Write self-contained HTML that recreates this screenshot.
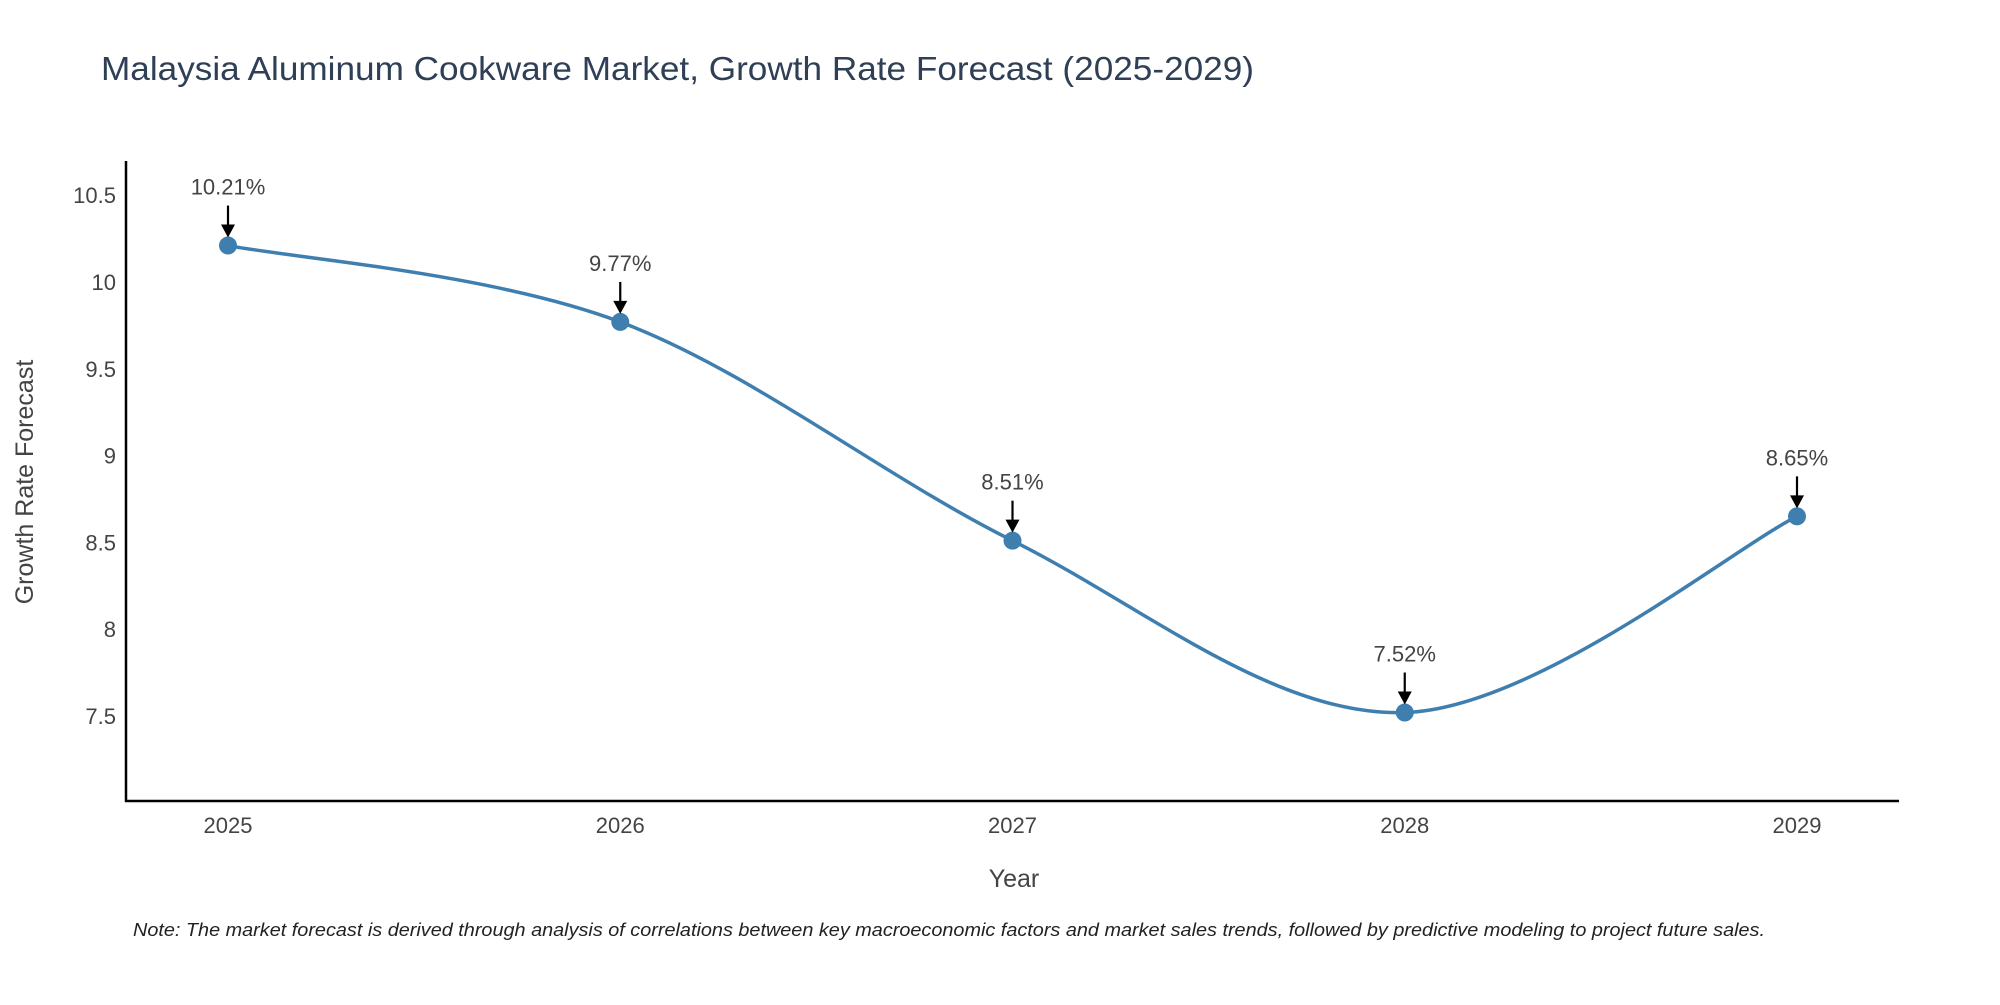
<!DOCTYPE html>
<html><head><meta charset="utf-8"><style>
body{margin:0;background:#fff;}
svg text{font-family:"Liberation Sans",sans-serif;fill:#444;}
</style></head><body>
<svg id="chart" width="2000" height="1000" viewBox="0 0 2000 1000" xmlns="http://www.w3.org/2000/svg">
<text x="101" y="80" font-size="33" textLength="1153" lengthAdjust="spacingAndGlyphs" style="fill:#2f3f55">Malaysia Aluminum Cookware Market, Growth Rate Forecast (2025-2029)</text>
<g id="yticks"></g><g id="xticks"></g>
<line x1="126" y1="161" x2="126" y2="802" stroke="#000" stroke-width="2.5"/>
<line x1="125" y1="801" x2="1899" y2="801" stroke="#000" stroke-width="2.5"/>
<g id="series"></g><g id="annots"></g>
<text x="1014" y="887" font-size="25" text-anchor="middle">Year</text>
<text transform="translate(33,482) rotate(-90)" font-size="25" text-anchor="middle">Growth Rate Forecast</text>
<text x="133" y="936" font-size="18" font-style="italic" textLength="1632" lengthAdjust="spacingAndGlyphs" style="fill:#222">Note: The market forecast is derived through analysis of correlations between key macroeconomic factors and market sales trends, followed by predictive modeling to project future sales.</text>
</svg>
<script>
const years=[2025,2026,2027,2028,2029];
const rates=[10.21,9.77,8.51,7.52,8.65];
const labels=["10.21%","9.77%","8.51%","7.52%","8.65%"];
const yTicks=[7.5,8,8.5,9,9.5,10,10.5];
const yTickLabels=["7.5","8","8.5","9","9.5","10","10.5"];
const NS="http://www.w3.org/2000/svg";
function xs(yr){return 228+(yr-2025)*392.25;}
function ys(v){return 716-(v-7.5)*173.6;}
function mk(tag,attrs,parent){const e=document.createElementNS(NS,tag);for(const k in attrs)e.setAttribute(k,attrs[k]);parent.appendChild(e);return e;}
const yt=document.getElementById('yticks');
yTicks.forEach((v,i)=>{const t=mk('text',{x:116,y:ys(v)+8,'font-size':22,'text-anchor':'end'},yt);


t.textContent=yTickLabels[i];});
const xt=document.getElementById('xticks');
years.forEach(y=>{const t=mk('text',{x:xs(y),y:833,'font-size':22,'text-anchor':'middle'},xt);


t.textContent=y;});
const pts=years.map((y,i)=>[xs(y),ys(rates[i])]);
let d="M"+pts[0][0]+","+pts[0][1];
for(let i=0;i<pts.length-1;i++){const p0=pts[Math.max(0,i-1)],p1=pts[i],p2=pts[i+1],p3=pts[Math.min(pts.length-1,i+2)];const k=1/6;
const c1=[p1[0]+(p2[0]-p0[0])*k,p1[1]+(p2[1]-p0[1])*k],c2=[p2[0]-(p3[0]-p1[0])*k,p2[1]-(p3[1]-p1[1])*k];
d+=` C${c1[0]},${c1[1]} ${c2[0]},${c2[1]} ${p2[0]},${p2[1]}`;}
const s=document.getElementById('series');
const line=mk('path',{d:d,fill:'none',stroke:'#3f7fb0','stroke-width':3.5},s);


pts.forEach(p=>{const c=mk('circle',{cx:p[0],cy:p[1],r:9,fill:'#3f7fb0'},s);

});
const a=document.getElementById('annots');
pts.forEach((p,i)=>{const l=mk('line',{x1:p[0],y1:p[1]-40,x2:p[0],y2:p[1]-20,stroke:'#000','stroke-width':2.2},a);


const h=mk('polygon',{points:`${p[0]-7},${p[1]-21} ${p[0]+7},${p[1]-21} ${p[0]},${p[1]-8}`,fill:'#000'},a);


const t=mk('text',{x:p[0],y:p[1]-51,'font-size':22,'text-anchor':'middle'},a);


t.textContent=labels[i];});
</script>
</body></html>
